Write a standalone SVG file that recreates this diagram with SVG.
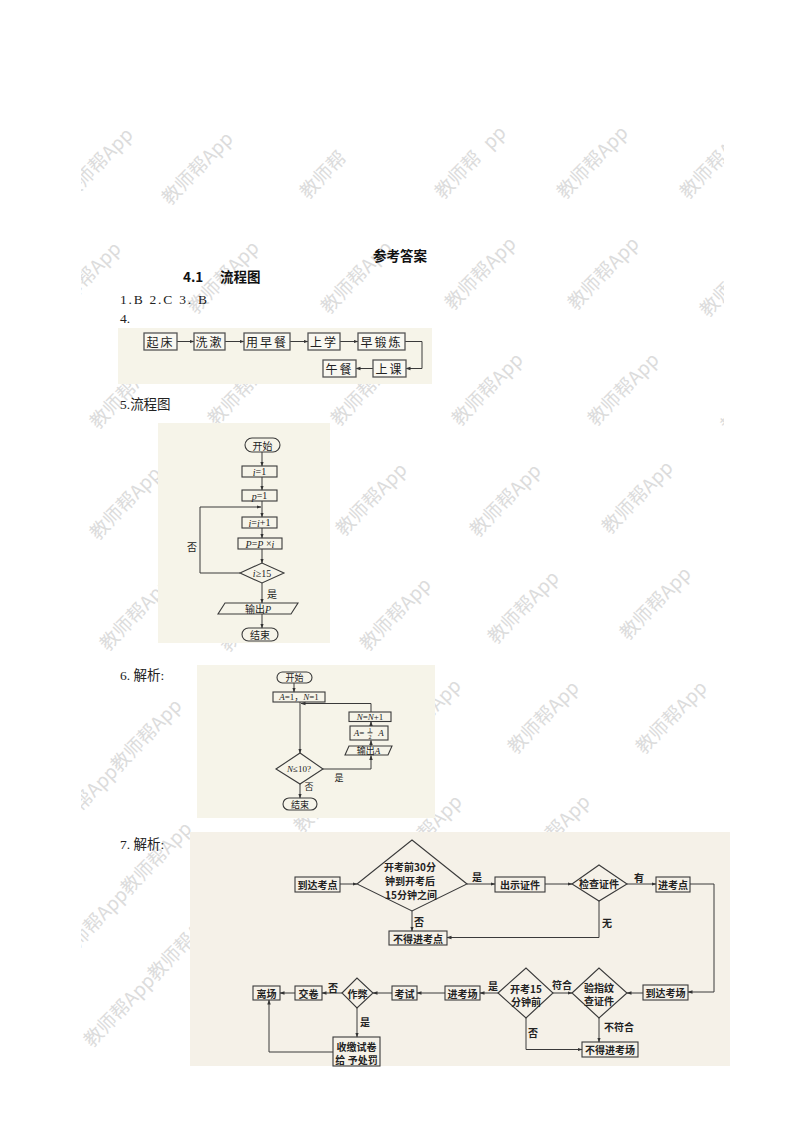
<svg xmlns="http://www.w3.org/2000/svg" width="800" height="1132" viewBox="0 0 800 1132">
<defs>
<style>
.wm{font-family:"Noto Sans CJK SC",sans-serif;font-size:19px;fill:#dcdcdc}
.bg{fill:#f6f4e9}
.bg7{fill:#f5f1e8}
.box{fill:none;stroke:#3a3a3a;stroke-width:1.1}
.box4{fill:#f9f8f1;stroke:#555;stroke-width:1.3}
.ln{fill:none;stroke:#3a3a3a;stroke-width:1}
.t{font-family:"Noto Sans CJK SC",sans-serif;fill:#222;text-anchor:middle;dominant-baseline:central}
.tb{font-family:"Noto Sans CJK SC",sans-serif;fill:#222;font-weight:bold;text-anchor:middle;dominant-baseline:central}
.m{font-family:"Liberation Serif","Noto Sans CJK SC",serif;fill:#222;text-anchor:middle;dominant-baseline:central}
.it{font-style:italic}
.hd{font-family:"Noto Sans CJK SC",sans-serif;font-weight:bold;fill:#111}
.body{font-family:"Liberation Serif","Noto Sans CJK SC",serif;fill:#222}
</style>
<marker id="ah" viewBox="0 0 10 10" refX="9" refY="5" markerWidth="5" markerHeight="5" orient="auto" markerUnits="userSpaceOnUse"><path d="M0,1.5 L10,5 L0,8.5 z" fill="#333"/></marker>
<clipPath id="wmclip"><rect x="81" y="0" width="643" height="1132"/></clipPath>
</defs>
<rect width="800" height="1132" fill="#fff"/>

<g id="watermarks" class="wm" clip-path="url(#wmclip)">
<text transform="translate(97 164) rotate(-46)" x="-46" y="7">教师帮App</text>
<text transform="translate(197 168) rotate(-46)" x="-46" y="7">教师帮App</text>
<text transform="translate(335 162) rotate(-46)" x="-46" y="7">教师帮</text>
<text transform="translate(470 162) rotate(-46)" x="-46" y="7">教师帮<tspan fill-opacity="0">A</tspan>pp</text>
<text transform="translate(592 162) rotate(-46)" x="-46" y="7">教师帮App</text>
<text transform="translate(715 162) rotate(-46)" x="-46" y="7">教师帮App</text>
<text transform="translate(85 278) rotate(-46)" x="-46" y="7">教师帮App</text>
<text transform="translate(223 277) rotate(-46)" x="-46" y="7">教师帮App</text>
<text transform="translate(356 277) rotate(-46)" x="-46" y="7">教师帮App</text>
<text transform="translate(480 273) rotate(-46)" x="-46" y="7">教师帮App</text>
<text transform="translate(603 273) rotate(-46)" x="-46" y="7">教师帮App</text>
<text transform="translate(735 280) rotate(-46)" x="-46" y="7">教师帮App</text>
<text transform="translate(125 392) rotate(-46)" x="-46" y="7">教师帮App</text>
<text transform="translate(243 389) rotate(-46)" x="-46" y="7">教师帮App</text>
<text transform="translate(366 389) rotate(-46)" x="-46" y="7">教师帮App</text>
<text transform="translate(487 389) rotate(-46)" x="-46" y="7">教师帮App</text>
<text transform="translate(623 389) rotate(-46)" x="-46" y="7">教师帮App</text>
<text transform="translate(756 395) rotate(-46)" x="-46" y="7">教师帮App</text>
<text transform="translate(125 503) rotate(-46)" x="-46" y="7">教师帮App</text>
<text transform="translate(371 499) rotate(-46)" x="-46" y="7">教师帮App</text>
<text transform="translate(505 500) rotate(-46)" x="-46" y="7">教师帮App</text>
<text transform="translate(637 497) rotate(-46)" x="-46" y="7">教师帮App</text>
<text transform="translate(135 614) rotate(-46)" x="-46" y="7">教师帮App</text>
<text transform="translate(255 615) rotate(-46)" x="-46" y="7">教师帮App</text>
<text transform="translate(395 614) rotate(-46)" x="-46" y="7">教师帮App</text>
<text transform="translate(523 607) rotate(-46)" x="-46" y="7">教师帮App</text>
<text transform="translate(655 603) rotate(-46)" x="-46" y="7">教师帮App</text>
<text transform="translate(146 735) rotate(-46)" x="46" y="7" text-anchor="end">教师帮App教师帮App</text>
<text transform="translate(425 715) rotate(-46)" x="-46" y="7">教师帮App</text>
<text transform="translate(543 717) rotate(-46)" x="-46" y="7">教师帮App</text>
<text transform="translate(671 717) rotate(-46)" x="-46" y="7">教师帮App</text>
<text transform="translate(156 858) rotate(-46)" x="46" y="7" text-anchor="end">教师帮App教师帮App</text>
<text transform="translate(183 944) rotate(-46)" x="46" y="7" text-anchor="end">教师帮App教师帮App</text>
<text transform="translate(329 796) rotate(-46)" x="-46" y="7">教师帮App</text>
<text transform="translate(426 831) rotate(-46)" x="-46" y="7">教师帮App</text>
<text transform="translate(554 831) rotate(-46)" x="-46" y="7">教师帮App</text>
</g>

<g id="backgrounds">
<rect class="bg" x="118" y="328" width="314" height="56"/>
<rect class="bg" x="158" y="423" width="172" height="220"/>
<rect class="bg" x="197" y="665" width="238" height="153"/>
<rect class="bg7" x="190" y="832" width="540" height="234"/>
</g>

<g id="page-text">
<text class="hd" x="400" y="261" font-size="13.5" text-anchor="middle">参考答案</text>
<text class="hd" x="183" y="282" font-size="13.5">4.1<tspan x="220">流程图</tspan></text>
<text class="body" x="120" y="304" font-size="13.5" textLength="87" lengthAdjust="spacing">1.B 2.C 3.  B</text>
<text class="body" x="120" y="323" font-size="13.5">4.</text>
<text class="body" x="120" y="409" font-size="13.5">5.流程图</text>
<text class="body" x="120" y="680" font-size="13.5">6.  解析:</text>
<text class="body" x="120" y="849" font-size="13.5">7.  解析:</text>
</g>

<!-- Flowchart 4 -->
<g id="f4-connectors">
<path class="ln" marker-end="url(#ah)" d="M177,341.5 H194"/>
<path class="ln" marker-end="url(#ah)" d="M225,341.5 H244"/>
<path class="ln" marker-end="url(#ah)" d="M290,341.5 H308"/>
<path class="ln" marker-end="url(#ah)" d="M340,341.5 H358"/>
<path class="ln" marker-end="url(#ah)" d="M405,341.5 H422 V368.5 H406"/>
<path class="ln" marker-end="url(#ah)" d="M373,368.5 H356"/>
</g>
<g id="f4-qichuang"><rect class="box4" x="144" y="333" width="33" height="17"/><text class="t" x="160.5" y="341.5" font-size="12" letter-spacing="2">起床</text></g>
<g id="f4-xishu"><rect class="box4" x="194" y="333" width="31" height="17"/><text class="t" x="209.5" y="341.5" font-size="12" letter-spacing="2">洗漱</text></g>
<g id="f4-zaocan"><rect class="box4" x="244" y="333" width="46" height="17"/><text class="t" x="267" y="341.5" font-size="12" letter-spacing="2">用早餐</text></g>
<g id="f4-shangxue"><rect class="box4" x="308" y="333" width="32" height="17"/><text class="t" x="324" y="341.5" font-size="12" letter-spacing="2">上学</text></g>
<g id="f4-duanlian"><rect class="box4" x="358" y="333" width="47" height="17"/><text class="t" x="381.5" y="341.5" font-size="12" letter-spacing="2">早锻炼</text></g>
<g id="f4-shangke"><rect class="box4" x="373" y="360" width="33" height="17"/><text class="t" x="389.5" y="368.5" font-size="12" letter-spacing="2">上课</text></g>
<g id="f4-wucan"><rect class="box4" x="323" y="360" width="33" height="17"/><text class="t" x="339.5" y="368.5" font-size="12" letter-spacing="2">午餐</text></g>

<!-- Flowchart 5 -->
<g id="f5-connectors">
<path class="ln" marker-end="url(#ah)" d="M262,452 V466"/>
<path class="ln" marker-end="url(#ah)" d="M262,477 V490"/>
<path class="ln" marker-end="url(#ah)" d="M262,501 V517"/>
<path class="ln" marker-end="url(#ah)" d="M262,528 V538"/>
<path class="ln" marker-end="url(#ah)" d="M262,549 V563"/>
<path class="ln" marker-end="url(#ah)" d="M262,583 V603"/>
<path class="ln" marker-end="url(#ah)" d="M262,614 V628"/>
<path class="ln" marker-end="url(#ah)" d="M240,573 H200 V507 H261"/>
<text class="t" x="192" y="546" font-size="10">否</text>
<text class="t" x="272" y="593" font-size="10">是</text>
</g>
<g id="f5-start"><rect class="box" x="245" y="438" width="35" height="14" rx="7"/><text class="t" x="262.5" y="445" font-size="10">开始</text></g>
<g id="f5-i1"><rect class="box" x="242" y="466" width="35" height="11"/><text class="m" x="259.5" y="471.5" font-size="10"><tspan class="it">i</tspan>=1</text></g>
<g id="f5-p1"><rect class="box" x="242" y="490" width="35" height="11"/><text class="m" x="259.5" y="495.5" font-size="10"><tspan class="it">p</tspan>=1</text></g>
<g id="f5-inc"><rect class="box" x="242" y="517" width="35" height="11"/><text class="m" x="259.5" y="522.5" font-size="10"><tspan class="it">i</tspan>=<tspan class="it">i</tspan>+1</text></g>
<g id="f5-mul"><rect class="box" x="238" y="538" width="44" height="11"/><text class="m" x="260" y="543.5" font-size="10"><tspan class="it">P</tspan>=<tspan class="it">P</tspan> ×<tspan class="it">i</tspan></text></g>
<g id="f5-cond"><polygon class="box" points="240,573 262,563 284,573 262,583"/><text class="m" x="262" y="573" font-size="10"><tspan class="it">i</tspan>≥15</text></g>
<g id="f5-out"><polygon class="box" points="225,603 298,603 291,614 218,614"/><text class="t" x="258" y="608.5" font-size="10">输出<tspan class="it" font-family="Liberation Serif">P</tspan></text></g>
<g id="f5-end"><rect class="box" x="242" y="628" width="36" height="13" rx="6.5"/><text class="t" x="260" y="634.5" font-size="10">结束</text></g>

<!-- Flowchart 6 -->
<g id="f6-connectors">
<path class="ln" marker-end="url(#ah)" d="M294,683 V692"/>
<path class="ln" marker-end="url(#ah)" d="M300,702 V753"/>
<path class="ln" marker-end="url(#ah)" d="M371,712 V703.5 H301"/>
<path class="ln" marker-end="url(#ah)" d="M371,746 V740.5"/>
<path class="ln" marker-end="url(#ah)" d="M371,726 V721.5"/>
<path class="ln" marker-end="url(#ah)" d="M323,769 H371 V755.5"/>
<path class="ln" marker-end="url(#ah)" d="M300,784 V798"/>
<text class="t" x="339" y="777" font-size="9">是</text>
<text class="t" x="309" y="786" font-size="9">否</text>
</g>
<g id="f6-start"><rect class="box" x="277" y="672" width="35" height="11" rx="5.5"/><text class="t" x="294.5" y="677.5" font-size="9">开始</text></g>
<g id="f6-init"><rect class="box" x="273" y="692" width="52" height="10"/><text class="m" x="299" y="697" font-size="9"><tspan class="it">A</tspan>=1，<tspan class="it">N</tspan>=1</text></g>
<g id="f6-ninc"><rect class="box" x="349" y="712" width="42" height="9.5"/><text class="m" x="370" y="717" font-size="9"><tspan class="it">N</tspan>=<tspan class="it">N</tspan>+1</text></g>
<g id="f6-half"><rect class="box" x="350" y="726" width="38" height="14"/><text class="m" x="359" y="733" font-size="9"><tspan class="it">A</tspan>=</text><text class="m" x="370" y="729.5" font-size="6">1</text><path class="ln" d="M367.5,732.8 H372.5" stroke-width="0.6"/><text class="m" x="370" y="736.5" font-size="6">2</text><text class="m it" x="381" y="733" font-size="9">A</text></g>
<g id="f6-out"><polygon class="box" points="349,746 392,746 388,755 345,755"/><text class="t" x="368.5" y="750.5" font-size="9">输出<tspan class="it" font-family="Liberation Serif">A</tspan></text></g>
<g id="f6-cond"><polygon class="box" points="276,769 300,753 323,769 300,784"/><text class="m" x="299" y="769" font-size="9"><tspan class="it">N</tspan>≤10?</text></g>
<g id="f6-end"><rect class="box" x="283" y="798" width="34" height="12" rx="6"/><text class="t" x="300" y="804" font-size="9">结束</text></g>

<!-- Flowchart 7 -->
<g id="f7-connectors">
<path class="ln" marker-end="url(#ah)" d="M340,884 H357"/>
<path class="ln" marker-end="url(#ah)" d="M467,884 H495"/>
<path class="ln" marker-end="url(#ah)" d="M545,884 H572"/>
<path class="ln" marker-end="url(#ah)" d="M627,884 H656"/>
<path class="ln" marker-end="url(#ah)" d="M690,884 H714 V992 H688"/>
<path class="ln" marker-end="url(#ah)" d="M599,901 V937.5 H447"/>
<path class="ln" marker-end="url(#ah)" d="M412,911 V931"/>
<path class="ln" marker-end="url(#ah)" d="M643,993 H627"/>
<path class="ln" marker-end="url(#ah)" d="M553,993 H572"/>
<path class="ln" marker-end="url(#ah)" d="M498,993 H480"/>
<path class="ln" marker-end="url(#ah)" d="M445,993 H417"/>
<path class="ln" marker-end="url(#ah)" d="M392,993 H373"/>
<path class="ln" marker-end="url(#ah)" d="M342,993 H322"/>
<path class="ln" marker-end="url(#ah)" d="M295,993 H280"/>
<path class="ln" marker-end="url(#ah)" d="M357,1008 V1037"/>
<path class="ln" marker-end="url(#ah)" d="M333,1052 H269 V1000"/>
<path class="ln" marker-end="url(#ah)" d="M526,1018 V1049.5 H582"/>
<path class="ln" marker-end="url(#ah)" d="M599,1018 V1042"/>
<text class="tb" x="477" y="876" font-size="10">是</text>
<text class="tb" x="419" y="921" font-size="10">否</text>
<text class="tb" x="639" y="877" font-size="10">有</text>
<text class="tb" x="607" y="922" font-size="10">无</text>
<text class="tb" x="562" y="984" font-size="10">符合</text>
<text class="tb" x="493" y="985" font-size="10">是</text>
<text class="tb" x="533" y="1032" font-size="10">否</text>
<text class="tb" x="619" y="1026" font-size="10">不符合</text>
<text class="tb" x="333" y="987" font-size="10">否</text>
<text class="tb" x="365" y="1021" font-size="10">是</text>
</g>
<g id="f7-arrive"><rect class="box" x="295" y="877" width="45" height="15"/><text class="tb" x="317.5" y="884.5" font-size="10">到达考点</text></g>
<g id="f7-time"><polygon class="box" points="357,884 412,840 467,884 412,911"/><text class="tb" x="410" y="866" font-size="10">开考前30分</text><text class="tb" x="410" y="880" font-size="10">钟到开考后</text><text class="tb" x="411" y="894" font-size="10">15分钟之间</text></g>
<g id="f7-show"><rect class="box" x="495" y="877" width="50" height="15"/><text class="tb" x="520" y="884.5" font-size="10">出示证件</text></g>
<g id="f7-check"><polygon class="box" points="572,884 599,865 627,884 599,901"/><text class="tb" x="599" y="883" font-size="10">检查证件</text></g>
<g id="f7-enter"><rect class="box" x="656" y="877" width="34" height="15"/><text class="tb" x="673" y="884.5" font-size="10">进考点</text></g>
<g id="f7-deny1"><rect class="box" x="389" y="931" width="58" height="14"/><text class="tb" x="418" y="938" font-size="10">不得进考点</text></g>
<g id="f7-room"><rect class="box" x="643" y="985" width="45" height="15"/><text class="tb" x="665.5" y="992.5" font-size="10">到达考场</text></g>
<g id="f7-finger"><polygon class="box" points="572,993 599,968 627,993 599,1018"/><text class="tb" x="599" y="987" font-size="10">验指纹</text><text class="tb" x="599" y="1000" font-size="10">查证件</text></g>
<g id="f7-before"><polygon class="box" points="498,993 526,968 553,993 526,1018"/><text class="tb" x="526" y="988" font-size="10">开考15</text><text class="tb" x="526" y="1001" font-size="10">分钟前</text></g>
<g id="f7-deny2"><rect class="box" x="582" y="1042" width="56" height="15"/><text class="tb" x="610" y="1049.5" font-size="10">不得进考场</text></g>
<g id="f7-enterroom"><rect class="box" x="445" y="986" width="35" height="14"/><text class="tb" x="462.5" y="993" font-size="10">进考场</text></g>
<g id="f7-exam"><rect class="box" x="392" y="986" width="25" height="14"/><text class="tb" x="404.5" y="993" font-size="10">考试</text></g>
<g id="f7-cheat"><polygon class="box" points="342,993 357,978 373,993 357,1008"/><text class="tb" x="357.5" y="993" font-size="10">作弊</text></g>
<g id="f7-submit"><rect class="box" x="295" y="986" width="27" height="14"/><text class="tb" x="308.5" y="993" font-size="10">交卷</text></g>
<g id="f7-leave"><rect class="box" x="253" y="986" width="27" height="14"/><text class="tb" x="266.5" y="993" font-size="10">离场</text></g>
<g id="f7-punish"><rect class="box" x="333" y="1037" width="47" height="29"/><text class="tb" x="356.5" y="1046" font-size="10">收缴试卷</text><text class="tb" x="356.5" y="1059" font-size="10">给 予处罚</text></g>
</svg>
